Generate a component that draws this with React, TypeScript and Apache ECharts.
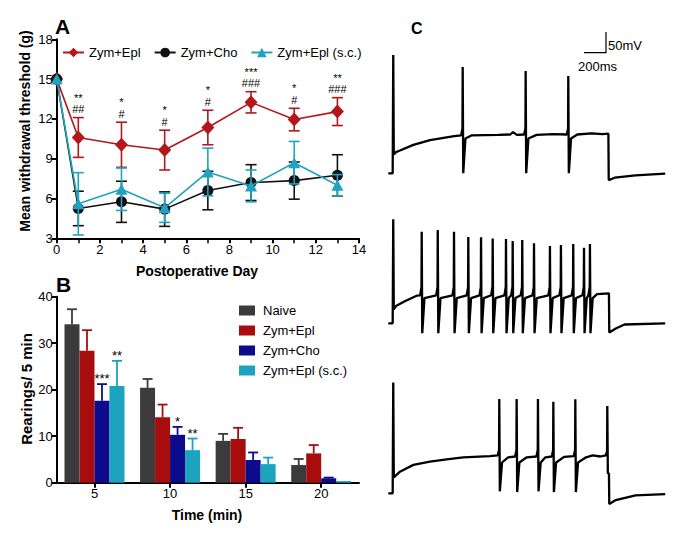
import React, { useEffect, useRef } from 'react';
import * as echarts from 'echarts';

const FONT = '"Liberation Sans", Arial, Helvetica, sans-serif';

// ---------- Panel A data ----------
const days = [0, 1, 3, 5, 7, 9, 11, 13];
const eplMean = [15, 10.6, 10.05, 9.65, 11.35, 13.25, 11.95, 12.55];
const eplErr = [0, 1.5, 1.7, 1.5, 1.3, 0.8, 0.85, 1.05];
const choMean = [15, 5.25, 5.75, 5.2, 6.6, 7.2, 7.35, 7.75];
const choErr = [0, 1.3, 1.55, 1.3, 1.45, 1.35, 1.4, 1.55];
const scMean = [15, 5.6, 6.7, 5.3, 8.0, 6.95, 8.7, 7.0];
const scErr = [0, 2.35, 1.6, 1.1, 1.8, 1.2, 1.6, 0.8];
const sigStars = ['', '**', '*', '*', '*', '***', '*', '**'];
const sigHashes = ['', '##', '#', '#', '#', '###', '#', '###'];

// ---------- Panel B data ----------
const timeCats = ['5', '10', '15', '20'];
const naiveBar = [34.1, 20.4, 9.0, 3.8];
const naiveErr = [3.2, 1.9, 1.5, 1.3];
const eplBar = [28.4, 14.05, 9.4, 6.3];
const eplBarErr = [4.4, 2.75, 2.4, 1.8];
const choBar = [17.6, 10.3, 4.9, 0.95];
const choBarErr = [3.6, 1.7, 1.6, 0.15];
const scBar = [20.8, 7.0, 4.0, 0.35];
const scBarErr = [5.4, 2.5, 1.4, 0];
const choBarSig = ['***', '*', '', ''];
const scBarSig = ['**', '**', '', ''];

// ---------- Panel C data (time ms, membrane potential mV) ----------
// spike: [time, level before, pre-spike level, peak, trough, level after]
const trace1Base = [[0, -65], [40, -65], [106, -8], [228, 6], [380, 18], [531, 25], [600, 28], [760, 30], [1000, 31], [1110, 32], [1135, 38], [1170, 31], [1350, 31], [1500, 33], [1720, 32], [1850, 35], [1950, 33], [2003, 34], [2006, -82], [2060, -76], [2250, -70], [2520, -66]];
const trace1Spikes = [[45, null, -65, 231, -18, -12], [677, 30, 47, 201, -65, 22], [1250, 32, 47, 191, -65, 22], [1638, 32, 47, 178, -65, 22]];

const trace2Base = [[0, -65], [40, -65], [150, -10], [258, 4], [1900, 8], [2008, 10], [2011, -88], [2070, -78], [2150, -68], [2520, -65]];
const trace2Spikes = [
  [45, null, -65, 195, -30, -22], [304, 5, 26, 164, -90, -2], [450, 5, 26, 168, -90, -2], [598, 5, 26, 164, -90, -2],
  [728, 5, 26, 151, -90, -2], [844, 5, 26, 150, -90, -2], [950, 5, 26, 147, -90, -2], [1071, 5, 26, 146, -90, -2],
  [1132, 5, 26, 141, -90, -2], [1219, 5, 26, 143, -90, -2], [1326, 5, 26, 135, -90, -2], [1471, 5, 26, 128, -90, -2],
  [1571, 5, 26, 131, -90, -2], [1683, 5, 26, 133, -90, -2], [1781, 5, 26, 124, -90, -2], [1835, 5, 26, 133, -90, -2]];

const trace3Base = [[0, -65], [40, -65], [106, -11], [228, 6], [380, 14], [531, 20], [682, 25], [925, 28], [1090, 25], [1260, 25], [1430, 25], [1600, 26], [1800, 25], [1860, 30], [1930, 27], [2008, -15], [2011, -92], [2070, -82], [2250, -70], [2520, -67]];
const trace3Spikes = [[45, null, -65, 212, -25, -20], [1010, 30, 43, 171, -60, 12], [1168, 27, 43, 171, -62, 12], [1362, 27, 43, 171, -60, 12],
  [1502, 27, 43, 164, -62, 12], [1702, 28, 43, 170, -62, 12], [1993, 30, 40, 153, -15, null]];

function buildTrace(base: number[][], spikes: (number | null)[][]) {
  const pts: number[][] = base.map((p) => [p[0], p[1]]);
  for (const s of spikes) {
    const [t, before, pre, peak, trough, after] = s as number[];
    if (before != null) pts.push([t - 14, before]);
    pts.push([t - 2, pre], [t, peak], [t + 5, trough]);
    if (after != null) pts.push([t + 25, after]);
  }
  return pts.sort((a, b) => a[0] - b[0]);
}

const RED = '#b3161c';
const BLACK = '#111111';
const TEAL = '#1fa3bf';
const BAR_GRAY = '#3b3b3b';
const BAR_RED = '#a80d0d';
const BAR_NAVY = '#0b0b8c';
const BAR_TEAL = '#1ba3bf';

function errSeries(means: number[], errs: number[], color: string, z: number) {
  return {
    type: 'custom', xAxisIndex: 0, yAxisIndex: 0, z, silent: true,
    data: days.map((d, i) => [d, means[i], errs[i]]),
    renderItem: (params: any, api: any) => {
      const x = api.value(0), m = api.value(1), e = api.value(2);
      if (!e) return { type: 'group', children: [] };
      const t = api.coord([x, m + e]);
      const b = api.coord([x, m - e]);
      const w = 5.5;
      const st = { stroke: color, lineWidth: 1.6 };
      return {
        type: 'group', children: [
          { type: 'line', shape: { x1: t[0], y1: t[1], x2: b[0], y2: b[1] }, style: st },
          { type: 'line', shape: { x1: t[0] - w, y1: t[1], x2: t[0] + w, y2: t[1] }, style: st },
          { type: 'line', shape: { x1: b[0] - w, y1: b[1], x2: b[0] + w, y2: b[1] }, style: st },
        ],
      };
    },
  };
}

function barErrSeries(vals: number[], errs: number[], color: string, idx: number, sig: string[] | null) {
  return {
    type: 'custom', xAxisIndex: 1, yAxisIndex: 1, z: 5, silent: true,
    data: vals.map((v, i) => [i, v, errs[i]]),
    renderItem: (params: any, api: any) => {
      const c = api.value(0), v = api.value(1), e = api.value(2);
      const off = (idx - 1.5) * 15;
      const base = api.coord([c, v]);
      const top = api.coord([c, v + e]);
      const x = base[0] + off;
      const st = { stroke: color, lineWidth: 1.8 };
      const children: any[] = [];
      if (e > 0) {
        children.push({ type: 'line', shape: { x1: x, y1: base[1], x2: x, y2: top[1] }, style: st });
        children.push({ type: 'line', shape: { x1: x - 5, y1: top[1], x2: x + 5, y2: top[1] }, style: st });
      }
      const s = sig ? sig[params.dataIndex] : '';
      if (s) {
        children.push({ type: 'text', x, y: top[1] + 1, style: { text: s, fill: '#000', fontSize: 13, fontFamily: FONT, align: 'center', verticalAlign: 'bottom', textAlign: 'center', textVerticalAlign: 'bottom' } });
      }
      return { type: 'group', children };
    },
  };
}

function traceGrid(top: number) {
  return { left: 388.3, top, width: 278, height: 150 };
}

export default function App() {
  const ref = useRef<HTMLDivElement>(null);
  useEffect(() => {
    if (!ref.current) return;
    const chart = echarts.init(ref.current, undefined, { renderer: 'svg' });
    const axisLine = { show: true, lineStyle: { color: '#000', width: 2 } };
    const axisTick = { show: true, length: 5, lineStyle: { color: '#000', width: 2 } };
    const axisLabel = { color: '#000', fontSize: 13, fontFamily: FONT, margin: 5 };
    const hidden = { show: false };

    const option: any = {
      animation: false,
      backgroundColor: '#fff',
      textStyle: { fontFamily: FONT },
      grid: [
        { left: 56.7, top: 39.3, width: 302.3, height: 199 },
        { left: 56.7, top: 296.7, width: 302.3, height: 186 },
        traceGrid(41.3),
        traceGrid(191.3),
        traceGrid(361.3),
      ],
      xAxis: [
        { gridIndex: 0, type: 'value', min: 0, max: 14, interval: 2, axisLine, axisTick,
          minorTick: { show: true, splitNumber: 2, length: 5, lineStyle: { color: '#000', width: 1.5 } },
          axisLabel, splitLine: { show: false } },
        { gridIndex: 1, type: 'category', data: timeCats, axisLine,
          axisTick: { ...axisTick, alignWithLabel: true }, axisLabel: { ...axisLabel, margin: 4 } },
        { gridIndex: 2, type: 'value', min: 0, max: 2530, ...hidden },
        { gridIndex: 3, type: 'value', min: 0, max: 2530, ...hidden },
        { gridIndex: 4, type: 'value', min: 0, max: 2530, ...hidden },
      ],
      yAxis: [
        { gridIndex: 0, type: 'value', min: 3, max: 18, interval: 3, axisLine, axisTick,
          axisLabel: { ...axisLabel, margin: 4 }, splitLine: { show: false } },
        { gridIndex: 1, type: 'value', min: 0, max: 40, interval: 10, axisLine, axisTick,
          axisLabel: { ...axisLabel, margin: 4 }, splitLine: { show: false } },
        { gridIndex: 2, type: 'value', min: -110, max: 265, ...hidden },
        { gridIndex: 3, type: 'value', min: -110, max: 265, ...hidden },
        { gridIndex: 4, type: 'value', min: -110, max: 265, ...hidden },
      ],
      legend: [
        {
          data: ['Zym+Epl', 'Zym+Cho', 'Zym+Epl (s.c.)'],
          left: 62, top: 46, padding: 0, orient: 'horizontal', itemWidth: 21, itemHeight: 12, itemGap: 13,
          textStyle: { fontSize: 13, color: '#000', fontFamily: FONT }, selectedMode: false,
        },
        {
          data: ['B|Naive', 'B|Zym+Epl', 'B|Zym+Cho', 'B|Zym+Epl (s.c.)'],
          formatter: (n: string) => n.replace('B|', ''),
          left: 239, top: 303, padding: 0, orient: 'vertical', itemWidth: 16, itemHeight: 10, itemGap: 5,
          icon: 'rect',
          textStyle: { fontSize: 13, color: '#000', fontFamily: FONT, lineHeight: 15, padding: [0, 0, 0, 3] },
          selectedMode: false,
        },
      ],
      series: [
        errSeries(eplMean, eplErr, RED, 2),
        { name: 'Zym+Epl', type: 'line', xAxisIndex: 0, yAxisIndex: 0, z: 3,
          data: days.map((d, i) => [d, eplMean[i]]), symbol: 'diamond', symbolSize: [13, 14],
          lineStyle: { color: RED, width: 1.6 }, itemStyle: { color: RED } },
        errSeries(choMean, choErr, BLACK, 4),
        { name: 'Zym+Cho', type: 'line', xAxisIndex: 0, yAxisIndex: 0, z: 5,
          data: days.map((d, i) => [d, choMean[i]]), symbol: 'circle', symbolSize: 11,
          lineStyle: { color: BLACK, width: 1.6 }, itemStyle: { color: BLACK } },
        errSeries(scMean, scErr, TEAL, 6),
        { name: 'Zym+Epl (s.c.)', type: 'line', xAxisIndex: 0, yAxisIndex: 0, z: 7,
          data: days.map((d, i) => [d, scMean[i]]), symbol: 'triangle', symbolSize: [12, 11],
          lineStyle: { color: TEAL, width: 1.6 }, itemStyle: { color: TEAL } },
        {
          type: 'custom', xAxisIndex: 0, yAxisIndex: 0, z: 8, silent: true,
          data: days.map((d, i) => [d, eplMean[i] + eplErr[i]]),
          renderItem: (params: any, api: any) => {
            const p = api.coord([api.value(0), api.value(1)]);
            const i = params.dataIndex;
            if (!sigStars[i]) return { type: 'group', children: [] };
            const mk = (text: string, y: number) => ({ type: 'text', x: p[0], y,
              style: { text, fill: '#000', fontSize: 11, fontFamily: FONT, align: 'center', verticalAlign: 'bottom', textAlign: 'center', textVerticalAlign: 'bottom' } });
            return { type: 'group', children: [mk(sigHashes[i], p[1] - 3), mk(sigStars[i], p[1] - 14.5)] };
          },
        },
        { name: 'B|Naive', type: 'bar', xAxisIndex: 1, yAxisIndex: 1, data: naiveBar, barWidth: 15, barGap: '0%', itemStyle: { color: BAR_GRAY } },
        { name: 'B|Zym+Epl', type: 'bar', xAxisIndex: 1, yAxisIndex: 1, data: eplBar, barWidth: 15, barGap: '0%', itemStyle: { color: BAR_RED } },
        { name: 'B|Zym+Cho', type: 'bar', xAxisIndex: 1, yAxisIndex: 1, data: choBar, barWidth: 15, barGap: '0%', itemStyle: { color: BAR_NAVY } },
        { name: 'B|Zym+Epl (s.c.)', type: 'bar', xAxisIndex: 1, yAxisIndex: 1, data: scBar, barWidth: 15, barGap: '0%', itemStyle: { color: BAR_TEAL } },
        barErrSeries(naiveBar, naiveErr, BAR_GRAY, 0, null),
        barErrSeries(eplBar, eplBarErr, BAR_RED, 1, null),
        barErrSeries(choBar, choBarErr, BAR_NAVY, 2, choBarSig),
        barErrSeries(scBar, scBarErr, BAR_TEAL, 3, scBarSig),
        { type: 'line', xAxisIndex: 2, yAxisIndex: 2, data: buildTrace(trace1Base, trace1Spikes), symbol: 'none', silent: true, clip: false, lineStyle: { color: '#000', width: 2.3 } },
        { type: 'line', xAxisIndex: 3, yAxisIndex: 3, data: buildTrace(trace2Base, trace2Spikes), symbol: 'none', silent: true, clip: false, lineStyle: { color: '#000', width: 2.3 } },
        { type: 'line', xAxisIndex: 4, yAxisIndex: 4, data: buildTrace(trace3Base, trace3Spikes), symbol: 'none', silent: true, clip: false, lineStyle: { color: '#000', width: 2.3 } },
      ],
      graphic: [
        { type: 'text', x: 55, y: 16, style: { text: 'A', fontSize: 21, fontWeight: 'bold', fontFamily: FONT, fill: '#000' } },
        { type: 'text', x: 56, y: 274, style: { text: 'B', fontSize: 21, fontWeight: 'bold', fontFamily: FONT, fill: '#000' } },
        { type: 'text', x: 411, y: 20, style: { text: 'C', fontSize: 16, fontWeight: 'bold', fontFamily: FONT, fill: '#000' } },
        { type: 'text', x: 25, y: 131, rotation: Math.PI / 2, style: { text: 'Mean withdrawal threshold (g)', fontSize: 14, fontWeight: 'bold', fontFamily: FONT, fill: '#000', align: 'center', verticalAlign: 'middle' } },
        { type: 'text', x: 197, y: 271, style: { text: 'Postoperative Day', fontSize: 14, fontWeight: 'bold', fontFamily: FONT, fill: '#000', align: 'center', verticalAlign: 'middle' } },
        { type: 'text', x: 26, y: 389, rotation: Math.PI / 2, style: { text: 'Rearings/ 5 min', fontSize: 15, fontWeight: 'bold', fontFamily: FONT, fill: '#000', align: 'center', verticalAlign: 'middle' } },
        { type: 'text', x: 207, y: 515, style: { text: 'Time (min)', fontSize: 14, fontWeight: 'bold', fontFamily: FONT, fill: '#000', align: 'center', verticalAlign: 'middle' } },
        { type: 'polyline', shape: { points: [[584, 52.7], [606, 52.7], [606, 32]] }, style: { stroke: '#000', lineWidth: 1.2, fill: 'none' } },
        { type: 'text', x: 608, y: 45, style: { text: '50mV', fontSize: 13, fontFamily: FONT, fill: '#000', verticalAlign: 'middle' } },
        { type: 'text', x: 578, y: 66, style: { text: '200ms', fontSize: 13, fontFamily: FONT, fill: '#000', verticalAlign: 'middle' } },
      ],
    };
    chart.setOption(option);
    return () => chart.dispose();
  }, []);
  return <div ref={ref} style={{ position: 'absolute', left: 0, top: 0, width: 685, height: 534, background: '#fff' }} />;
}
